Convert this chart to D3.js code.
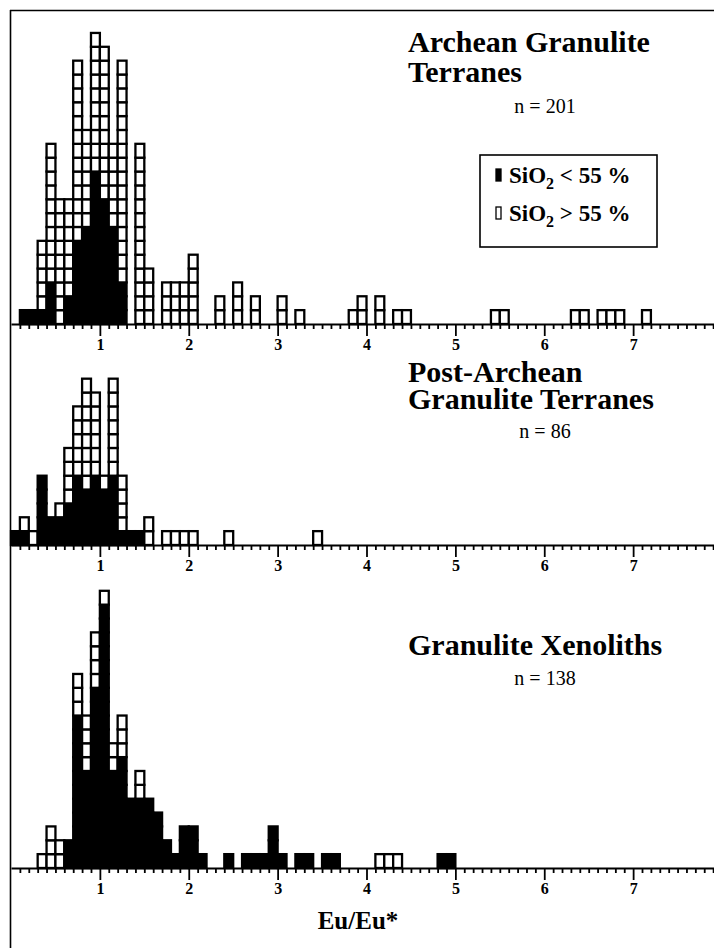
<!DOCTYPE html>
<html>
<head>
<meta charset="utf-8">
<script src="https://cdn.jsdelivr.net/npm/d3@7/dist/d3.min.js"></script>
<style>
body { margin: 0; background: #fff; }
svg { display: block; }
text { font-family: "Liberation Serif", "Times New Roman", serif; fill: #000; }
</style>
</head>
<body>
<div id="chart"></div>
<script>
// Eu/Eu* bins (start of each 0.1 wide bin), number of samples with SiO2 < 55 % (black)
// and SiO2 > 55 % (white) in each bin

var archBins = [0.1, 0.2, 0.3, 0.4, 0.5, 0.6, 0.7, 0.8, 0.9, 1.0, 1.1, 1.2, 1.4, 1.5, 1.7, 1.8, 1.9, 2.0,
	2.3, 2.5, 2.7, 3.0, 3.2, 3.8, 3.9, 4.1, 4.3, 4.4, 5.4, 5.5, 6.3, 6.4, 6.6, 6.7, 6.8, 7.1];
var archLow  = [1, 1, 1, 3, 0, 2, 6, 7, 11, 9, 7, 3, 0, 0, 0, 0, 0, 0,
	0, 0, 0, 0, 0, 0, 0, 0, 0, 0, 0, 0, 0, 0, 0, 0, 0, 0];
var archHigh = [0, 0, 5, 10, 9, 7, 13, 7, 10, 11, 6, 16, 13, 4, 3, 3, 3, 5,
	2, 3, 2, 2, 1, 1, 2, 2, 1, 1, 1, 1, 1, 1, 1, 1, 1, 1];

var postBins = [0.0, 0.1, 0.2, 0.3, 0.4, 0.5, 0.6, 0.7, 0.8, 0.9, 1.0, 1.1, 1.2, 1.3, 1.4, 1.5,
	1.7, 1.8, 1.9, 2.0, 2.4, 3.4];
var postLow  = [1, 1, 0, 5, 2, 2, 3, 5, 4, 5, 4, 5, 1, 1, 1, 0,
	0, 0, 0, 0, 0, 0];
var postHigh = [0, 1, 1, 0, 0, 1, 4, 5, 8, 6, 1, 7, 4, 0, 0, 2,
	1, 1, 1, 1, 1, 1];

var xenoBins = [0.3, 0.4, 0.5, 0.6, 0.7, 0.8, 0.9, 1.0, 1.1, 1.2, 1.3, 1.4, 1.5, 1.6, 1.7, 1.8, 1.9, 2.0, 2.1,
	2.4, 2.6, 2.7, 2.8, 2.9, 3.0, 3.2, 3.3, 3.5, 3.6, 4.1, 4.2, 4.3, 4.8, 4.9];
var xenoLow  = [0, 0, 0, 2, 11, 7, 13, 19, 7, 8, 5, 5, 5, 4, 2, 1, 3, 3, 1,
	1, 1, 1, 1, 3, 1, 1, 1, 1, 1, 0, 0, 0, 1, 1];
var xenoHigh = [1, 3, 2, 0, 3, 4, 4, 1, 2, 3, 0, 2, 0, 0, 0, 0, 0, 0, 0,
	0, 0, 0, 0, 0, 0, 0, 0, 0, 0, 1, 1, 1, 0, 0];

var majorTicks = [1, 2, 3, 4, 5, 6, 7, 8];
var minorTicks = d3.range(1, 81).filter(function(i) { return i % 10 != 0; }).map(function(i) { return i / 10; });

var width = 714, height = 948;
var box_h = 13.86;

var svg = d3.select("#chart").append("svg")
	.attr("width", width)
	.attr("height", height);

var x = d3.scaleLinear().domain([0, 8]).range([11, 722]);

// frame: left and top only
svg.append("line").attr("x1", 10.5).attr("x2", 10.5).attr("y1", 10).attr("y2", height)
	.attr("stroke", "#000").attr("stroke-width", 1.6);
svg.append("line").attr("x1", 10).attr("x2", width).attr("y1", 10.5).attr("y2", 10.5)
	.attr("stroke", "#000").attr("stroke-width", 1.6);

function draw_panel(bins, low, high, base) {
	var y = d3.scaleLinear().domain([0, 1]).range([base, base - box_h]);
	var boxes = [];

	bins.forEach(function(b, i) {
		for (var j = 0; j < low[i]; j++) boxes.push({ b: b, row: j, fill: "#000" });
		for (var j = 0; j < high[i]; j++) boxes.push({ b: b, row: low[i] + j, fill: "#fff" });
	});

	var g = svg.append("g");

	g.selectAll("rect")
		.data(boxes)
		.enter().append("rect")
			.attr("x", function(d) { return x(d.b); })
			.attr("width", function(d) { return x(d.b + 0.1) - x(d.b); })
			.attr("y", function(d) { return y(d.row + 1); })
			.attr("height", function(d) { return y(d.row) - y(d.row + 1); })
			.attr("fill", function(d) { return d.fill; })
			.attr("stroke", "#000")
			.attr("stroke-width", 2.3);

	var minor = g.append("g")
		.attr("transform", "translate(0," + base + ")")
		.call(d3.axisBottom(x).tickValues(minorTicks).tickSize(5).tickSizeOuter(0).tickFormat(""));
	minor.select(".domain").remove();
	minor.selectAll("line").attr("stroke-width", 1.8);

	var major = g.append("g")
		.attr("transform", "translate(0," + base + ")")
		.call(d3.axisBottom(x).tickValues(majorTicks).tickSize(12).tickSizeOuter(0).tickPadding(3));
	major.select(".domain").attr("stroke-width", 2.2);
	major.selectAll("line").attr("stroke-width", 1.8);
	major.selectAll("text")
		.style("font-family", "'Liberation Serif', serif")
		.style("font-weight", "bold")
		.style("font-size", "16px");
}

draw_panel(archBins, archLow, archHigh, 324);
draw_panel(postBins, postLow, postHigh, 545);
draw_panel(xenoBins, xenoLow, xenoHigh, 868);

// titles
function title(txt, tx, ty, size, bold, anchor) {
	svg.append("text")
		.attr("x", tx)
		.attr("y", ty)
		.attr("text-anchor", anchor || "start")
		.style("font-size", size + "px")
		.style("font-weight", bold ? "bold" : "normal")
		.text(txt);
}

title("Archean Granulite", 408, 52, 30, true);
title("Terranes", 408, 82, 30, true);
title("n = 201", 545, 113, 20, false, "middle");

title("Post-Archean", 408, 382, 30, true);
title("Granulite Terranes", 408, 409, 30, true);
title("n = 86", 545, 438, 20, false, "middle");

title("Granulite Xenoliths", 408, 655, 30, true);
title("n = 138", 545, 685, 20, false, "middle");

title("Eu/Eu*", 358, 929, 25, true, "middle");

// legend
var leg = svg.append("g");
leg.append("rect")
	.attr("x", 480).attr("y", 155).attr("width", 177).attr("height", 92)
	.attr("fill", "#fff").attr("stroke", "#000").attr("stroke-width", 1.6);

var legFill = ["#000", "#fff"];
var legSign = ["<", ">"];
var legY = [183, 221];

legFill.forEach(function(f, i) {
	leg.append("rect")
		.attr("x", 496).attr("y", legY[i] - 14).attr("width", 5).attr("height", 12)
		.attr("fill", f).attr("stroke", "#000").attr("stroke-width", 1.3);
	var t = leg.append("text")
		.attr("x", 509).attr("y", legY[i])
		.style("font-size", "23px")
		.style("font-weight", "bold");
	t.append("tspan").text("SiO");
	t.append("tspan").attr("dy", 6).style("font-size", "16px").text("2");
	t.append("tspan").attr("dy", -6).text(" " + legSign[i] + " 55 %");
});
</script>
</body>
</html>
